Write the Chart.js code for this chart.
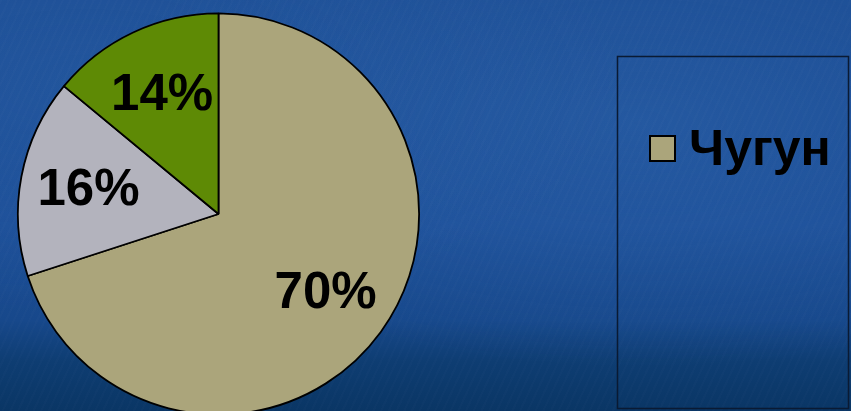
<!DOCTYPE html>
<html>
<head>
<meta charset="utf-8">
<script src="https://cdn.jsdelivr.net/npm/chart.js@4"></script>
<style>
  html, body { margin: 0; padding: 0; width: 851px; height: 411px; overflow: hidden; }
  body {
    background:
      repeating-linear-gradient(115deg, rgba(255,255,255,0.012) 0px, rgba(255,255,255,0.012) 2px, rgba(0,0,0,0) 2px, rgba(0,0,0,0) 7px),
      radial-gradient(ellipse at 75% 30%, rgba(60,120,190,0.25), rgba(0,0,0,0) 60%),
      radial-gradient(ellipse at 10% 20%, rgba(60,120,190,0.18), rgba(0,0,0,0) 50%),
      linear-gradient(to bottom, #1c4d94 0%, #1d4f98 55%, #17488b 78%, #0e3d72 88%, #0a3665 100%);
  }
  #wrap { position: absolute; left: 0; top: 0; width: 851px; height: 416px; }
</style>
</head>
<body>
<div id="wrap"><canvas id="c"></canvas></div>
<script>
const categories = ['Чугун', '', ''];
const values = [70, 16, 14];
const valueLabels = ['70%', '16%', '14%'];
const colors = ['#aba57b', '#b3b3bd', '#5e8a05'];

const labelPlugin = {
  id: 'sliceLabels',
  afterDatasetsDraw(chart) {
    const ctx = chart.ctx;
    const meta = chart.getDatasetMeta(0);
    ctx.save();
    ctx.font = 'bold 51px "Liberation Sans", Arial, sans-serif';
    ctx.fillStyle = '#000';
    ctx.textAlign = 'center';
    ctx.textBaseline = 'middle';
    meta.data.forEach((arc, i) => {
      const p = arc.getProps(['x', 'y', 'startAngle', 'endAngle', 'outerRadius'], true);
      const mid = (p.startAngle + p.endAngle) / 2;
      const r = p.outerRadius * 0.66;
      ctx.fillText(valueLabels[i], p.x + Math.cos(mid) * r, p.y + Math.sin(mid) * r + 2);
    });
    ctx.restore();
  }
};

const legendPlugin = {
  id: 'boxLegend',
  afterDraw(chart) {
    const ctx = chart.ctx;
    ctx.save();
    ctx.strokeStyle = '#0a1a33';
    ctx.lineWidth = 1.5;
    ctx.strokeRect(617.5, 56.5, 231, 352);
    const items = chart.data.labels.map((l, i) => ({ l, c: chart.data.datasets[0].backgroundColor[i] })).filter(o => o.l);
    items.forEach((it, k) => {
      const y = 136 + k * 60;
      ctx.fillStyle = it.c;
      ctx.fillRect(650, y, 25, 25);
      ctx.strokeStyle = '#000';
      ctx.lineWidth = 2;
      ctx.strokeRect(650, y, 25, 25);
      ctx.fillStyle = '#000';
      ctx.font = 'bold 50px "Liberation Sans", Arial, sans-serif';
      ctx.textBaseline = 'alphabetic';
      ctx.textAlign = 'left';
      ctx.fillText(it.l, 689, y + 29);
    });
    ctx.restore();
  }
};

new Chart(document.getElementById('c'), {
  type: 'pie',
  data: {
    labels: categories,
    datasets: [{
      data: values,
      backgroundColor: colors,
      borderColor: '#000',
      borderWidth: 1.8
    }]
  },
  options: {
    responsive: true,
    maintainAspectRatio: false,
    animation: false,
    layout: { padding: { left: 17, top: 12, right: 431, bottom: 0 } },
    plugins: { legend: { display: false }, tooltip: { enabled: false } }
  },
  plugins: [labelPlugin, legendPlugin]
});
</script>
</body>
</html>
